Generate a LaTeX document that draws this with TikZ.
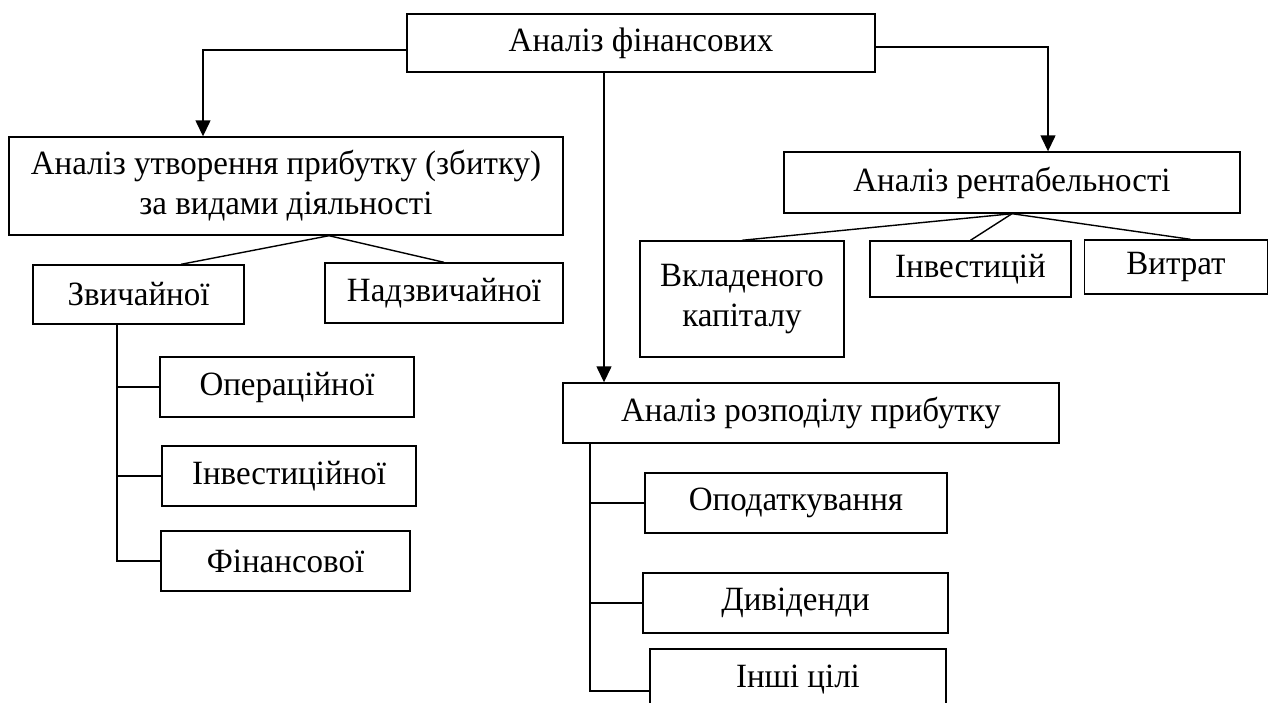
\documentclass[tikz,border=0pt]{standalone}
\usepackage{fontspec}
\setmainfont[FakeStretch=0.97]{Liberation Serif}
\usetikzlibrary{calc,arrows.meta,positioning}
\tikzset{
  blk/.style={draw,line width=1.4pt,inner sep=0pt,align=center,font=\fontsize{34}{40}\selectfont},
  link/.style={line width=1.4pt},
  arr/.style={line width=1.4pt,-{Triangle[width=15pt,length=16pt]}}
}

\begin{document}
\begin{tikzpicture}[x=1pt,y=-1pt]
\clip (0,0) rectangle (1270,702);
% top level
\node[blk,minimum width=468pt,minimum height=58pt] (fin) at (641,43) {Аналіз фінансових};
% left branch
\node[blk,minimum width=554pt,minimum height=98pt] (utv) at (286,186) {Аналіз утворення прибутку (збитку)\\за видами діяльності};
\node[blk,minimum width=211pt,minimum height=59pt] (zvych) at (138.5,294.5) {Звичайної};
\node[blk,minimum width=238pt,minimum height=60pt] (nadzv) at (444,293) {Надзвичайної};
\node[blk,minimum width=254pt,minimum height=60pt] (oper) at (287,387) {Операційної};
\node[blk,minimum width=254pt,minimum height=60pt] (invd) at (289,476) {Інвестиційної};
\node[blk,minimum width=249pt,minimum height=60pt] (finv) at (285.5,561) {Фінансової};
% right branch
\node[blk,minimum width=456pt,minimum height=61pt] (rent) at (1012,182.5) {Аналіз рентабельності};
\node[blk,minimum width=204pt,minimum height=116pt] (vkl) at (742,299) {Вкладеного\\капіталу};
\node[blk,minimum width=201pt,minimum height=56pt] (inv) at (970.5,269) {Інвестицій};
\node[blk,minimum width=183pt,minimum height=54pt] (vytr) at (1176,267) {Витрат};
% middle branch
\node[blk,minimum width=496pt,minimum height=60pt] (rozp) at (811,413) {Аналіз розподілу прибутку};
\node[blk,minimum width=302pt,minimum height=60pt] (opod) at (796,503) {Оподаткування};
\node[blk,minimum width=305pt,minimum height=60pt] (dyv) at (795.5,603) {Дивіденди};
\node[blk,minimum width=296pt,minimum height=62pt] (insh) at (798,680) {Інші цілі};

% arrows from the top box
\draw[arr] ([yshift=-7pt]fin.west) -| ([xshift=-83pt]utv.north);
\draw[arr] ([xshift=-37pt]fin.south) -- ([xshift=-37pt]fin.south |- rozp.north);
\draw[arr] ([yshift=-4pt]fin.east) -| ([xshift=36pt]rent.north);

% kinds of activity
\draw[link] ([xshift=43pt]utv.south) -- ([xshift=42.5pt]zvych.north);
\draw[link] ([xshift=43pt]utv.south) -- (nadzv.north);
\coordinate (zsp) at ([xshift=-21.5pt]zvych.south);
\draw[link] (zsp) |- (finv.west);
\foreach \n in {oper,invd}
  \draw[link] (\n.west) -- (\n.west -| zsp);

% profitability
\foreach \n in {vkl,inv}
  \draw[link] (rent.south) -- (\n.north);
\draw[link] (rent.south) -- ([xshift=14.5pt]vytr.north);

% distribution of profit
\coordinate (rsp) at ([xshift=-221pt]rozp.south);
\draw[link] (rsp) |- ([yshift=-11pt]insh.west);
\foreach \n in {opod,dyv}
  \draw[link] (\n.west) -- (\n.west -| rsp);
\end{tikzpicture}
\end{document}
